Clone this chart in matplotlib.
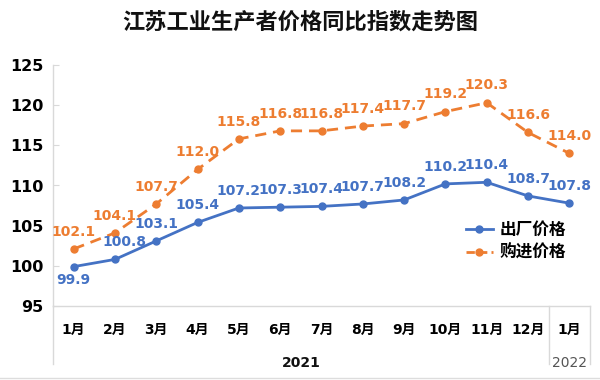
import matplotlib
matplotlib.use("Agg")
import matplotlib.pyplot as plt
from matplotlib.lines import Line2D

plt.rcParams['font.family'] = ['DejaVu Sans', 'Noto Sans CJK SC']

months = ["1月", "2月", "3月", "4月", "5月", "6月", "7月", "8月", "9月", "10月", "11月", "12月", "1月"]
ex_factory = [99.9, 100.8, 103.1, 105.4, 107.2, 107.3, 107.4, 107.7, 108.2, 110.2, 110.4, 108.7, 107.8]
purchase = [102.1, 104.1, 107.7, 112.0, 115.8, 116.8, 116.8, 117.4, 117.7, 119.2, 120.3, 116.6, 114.0]
yticks = [95, 100, 105, 110, 115, 120, 125]
years = ["2021", "2022"]
series_names = ["出厂价格", "购进价格"]

blue = "#4472C4"
orange = "#ED7D31"
gray = "#D9D9D9"

fig = plt.figure(figsize=(6, 3.8), dpi=100)
ax = fig.add_axes([53/600, 1-306/380, (590-53)/600, (306-65)/380])

x = list(range(len(months)))
ax.plot(x, ex_factory, color=blue, lw=2, marker='o', ms=5, zorder=3)
ax.plot(x, purchase, color=orange, lw=2, marker='o', ms=5, dashes=(4, 2.5), zorder=3)

for i, v in enumerate(ex_factory):
    dx, dy = 0, 12.5
    if i == 0:
        dy = -9.5
    if i == 1:
        dx = 7
    ax.annotate(f"{v:.1f}", (i, v), xytext=(dx, dy), textcoords='offset points',
                ha='center', va='center', color=blue, fontsize=10, fontweight='bold')
for i, v in enumerate(purchase):
    ax.annotate(f"{v:.1f}", (i, v), xytext=(0, 12.5), textcoords='offset points',
                ha='center', va='center', color=orange, fontsize=10, fontweight='bold')

ax.set_xlim(-0.5, len(months) - 0.5)
ax.set_ylim(95, 125)
ax.set_yticks(yticks)
ax.set_yticklabels([str(t) for t in yticks], fontsize=11.5, fontweight='bold')
ax.set_xticks(x)
ax.set_xticklabels(months, fontsize=10, fontweight='bold')
ax.tick_params(axis='x', length=0, pad=12)
ax.tick_params(axis='y', direction='in', length=4, color=gray, pad=7)
for s in ['top', 'right']:
    ax.spines[s].set_visible(False)
for s in ['left', 'bottom']:
    ax.spines[s].set_color(gray)
    ax.spines[s].set_linewidth(1)

tr = ax.get_xaxis_transform()
ybot = (306 - 364) / 241
for xv in [-0.5, 11.5, 12.5]:
    ax.plot([xv, xv], [0, ybot], transform=tr, color=gray, lw=1, clip_on=False)

ax.text(5.5, (306 - 363) / 241, years[0], transform=tr, ha='center', va='center',
        fontsize=10, fontweight='bold', color='#111111')
ax.text(12, (306 - 363) / 241, years[1], transform=tr, ha='center', va='center',
        fontsize=10, color='#555555')

handles = [Line2D([], [], color=blue, lw=2, marker='o', ms=5),
           Line2D([], [], color=orange, lw=2, marker='o', ms=5, dashes=(3, 1.5))]
fig.legend(handles, series_names, loc='upper left', bbox_to_anchor=(466/600, 1-221/380),
           frameon=False, prop={'family': 'Noto Sans CJK SC', 'weight': 'bold', 'size': 12},
           handlelength=1.6, handletextpad=0.4, labelspacing=0.3, borderpad=0, borderaxespad=0)

fig.text(0.5, 1 - 22/380, "江苏工业生产者价格同比指数走势图", ha='center', va='center',
         fontsize=16, fontweight='bold', family='Noto Sans CJK SC', color='#111111')

fig.add_artist(Line2D([0, 1], [2/380, 2/380], transform=fig.transFigure, color='#DDDDDD', lw=1))

fig.savefig("out.png", dpi=100)
